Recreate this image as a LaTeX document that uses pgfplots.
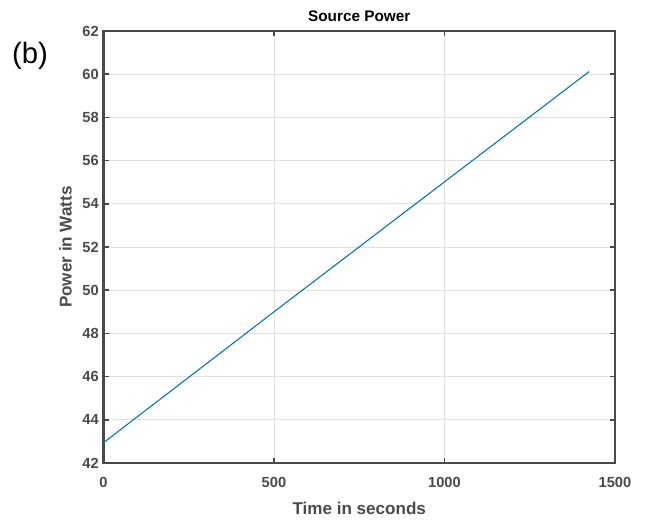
\documentclass[border=0pt]{standalone}
\usepackage{fontspec}
\setmainfont{Liberation Sans}
\usepackage{pgfplots}
\pgfplotsset{compat=1.18}
\definecolor{mblue}{rgb}{0,0.447,0.741}
\definecolor{axgray}{HTML}{4A4A4A}
\definecolor{gridgray}{HTML}{E0E0E0}
\begin{document}
\begin{tikzpicture}
\path[use as bounding box] (-77.6pt,-42pt) rectangle (407.6pt,347.25pt);
\begin{axis}[
    at={(0,0)}, anchor=south west,
    scale only axis,
    width=383.6pt, height=324pt,
    xmin=0, xmax=1500, ymin=42, ymax=62,
    xtick={0,500,1000,1500},
    ytick={42,44,...,62},
    tick align=inside,
    major tick length=4pt,
    axis line style={axgray, line width=2pt},
    every tick/.style={axgray, line width=1.2pt},
    grid=major,
    grid style={gridgray, line width=0.6pt},
    tick label style={font=\fontsize{11}{13}\selectfont\bfseries, text=axgray},
    xticklabel style={yshift=-7pt},
    /pgf/number format/assume math mode=true,
    /pgf/number format/1000 sep={},
    xlabel={Time in seconds},
    ylabel={Power in Watts},
    xlabel style={font=\fontsize{12.8}{15}\selectfont\bfseries, text=axgray, at={(axis description cs:0.5,-0.104)}, anchor=center},
    ylabel style={font=\fontsize{12.8}{15}\selectfont\bfseries, text=axgray, at={(axis description cs:-0.0743,0.5)}, anchor=center},
    clip=false,
]
\addplot[mblue, line width=0.8pt] coordinates {
    (0, 42.94)
    (500, 49.0)
    (1424, 60.12)
};
\node[font=\fontsize{11.5}{14}\selectfont\bfseries, anchor=base] at (axis description cs:0.5,1.023) {Source Power};
\node[font=\fontsize{22}{26}\selectfont, anchor=center] at (axis description cs:-0.1437,0.943) {(b)};
\end{axis}
\end{tikzpicture}
\end{document}
